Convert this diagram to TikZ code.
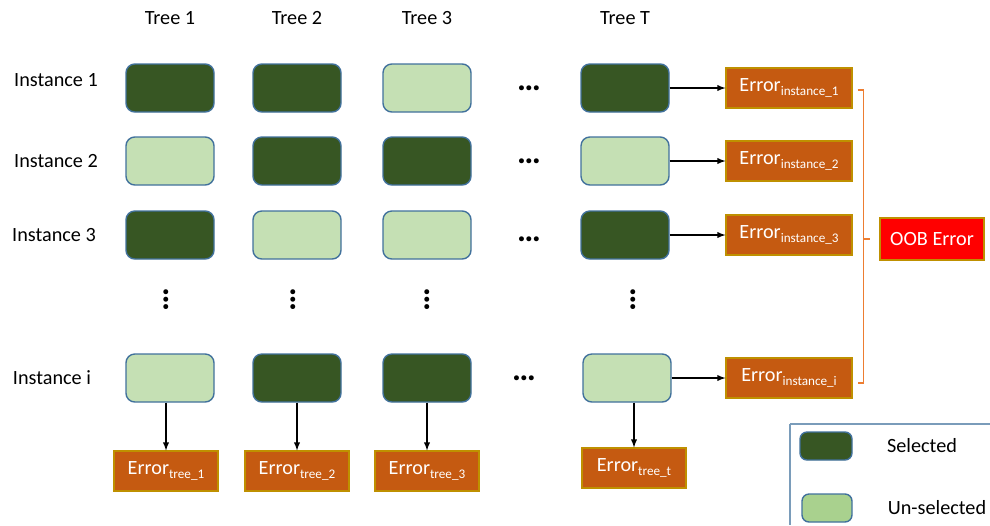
\documentclass[tikz,border=0pt]{standalone}
\usepackage{fontspec}
\setmainfont{Carlito}
\usepackage{tikz}

\definecolor{selgreen}{HTML}{375623}
\definecolor{unselgreen}{HTML}{C5E0B4}
\definecolor{legendgreen}{HTML}{A9D18E}
\definecolor{boxedge}{HTML}{41719C}
\definecolor{errorange}{HTML}{C55A11}
\definecolor{goldedge}{HTML}{BF9000}
\definecolor{bracketorange}{HTML}{ED7D31}

\newcommand{\errsub}[1]{\raisebox{-0.35ex}{\fontsize{7.5}{8}\selectfont #1}}
\newcommand{\dotrow}{{\fontsize{19}{20}\selectfont\bfseries …}}
\newcommand{\dotcol}{\rotatebox{90}{\dotrow}}

\begin{document}
\begin{tikzpicture}[node distance=1.3cm, >=latex, line width=0.6pt, font=\fontsize{11.5}{13}\selectfont]
    \tikzstyle{sel}=[draw=boxedge, fill=selgreen, rounded corners=5pt, minimum width=1.76cm, minimum height=0.96cm, line width=0.8pt]
    \tikzstyle{unsel}=[sel, fill=unselgreen]
    \tikzstyle{err}=[draw=goldedge, fill=errorange, text=white, minimum width=2.52cm, minimum height=0.8cm, inner sep=1pt]
    \tikzstyle{treeerr}=[err, minimum width=2.08cm]
    \tikzstyle{oob}=[draw=goldedge, fill=red, text=white, minimum width=2.08cm, minimum height=0.84cm]
    \tikzstyle{bracket}=[draw=bracketorange, line width=0.8pt]
    \tikzstyle{dots}=[inner sep=0pt]
    \useasboundingbox (0,0) rectangle (19.8,-10.5);

    % row 1
    \node[sel] (a1) at (3.4,-1.76) {};
    \node[sel, right of=a1, xshift=1.24cm] (b1) {};
    \node[unsel, right of=b1, xshift=1.3cm] (c1) {};
    \node[sel, right of=c1, xshift=2.66cm] (t1) {};
    % row 2
    \node[unsel, below of=a1, yshift=-0.16cm] (a2) {};
    \node[sel, right of=a2, xshift=1.24cm] (b2) {};
    \node[sel, right of=b2, xshift=1.3cm] (c2) {};
    \node[unsel, right of=c2, xshift=2.66cm] (t2) {};
    % row 3
    \node[sel, below of=a2, yshift=-0.18cm] (a3) {};
    \node[unsel, right of=a3, xshift=1.24cm] (b3) {};
    \node[unsel, right of=b3, xshift=1.3cm] (c3) {};
    \node[sel, right of=c3, xshift=2.66cm] (t3) {};
    % row i
    \node[unsel, below of=a3, yshift=-1.56cm] (ai) {};
    \node[sel, right of=ai, xshift=1.24cm] (bi) {};
    \node[sel, right of=bi, xshift=1.3cm] (ci) {};
    \node[unsel, right of=ci, xshift=2.7cm] (ti) {};

    % column and row labels
    \node[above of=a1, yshift=0.1cm] (la) {Tree 1};
    \node[above of=b1, yshift=0.1cm] (lb) {Tree 2};
    \node[above of=c1, yshift=0.1cm] (lc) {Tree 3};
    \node[above of=t1, yshift=0.1cm] (lt) {Tree T};
    \node[left of=a1, xshift=-0.98cm, yshift=0.16cm] (r1) {Instance 1};
    \node[left of=a2, xshift=-0.98cm] (r2) {Instance 2};
    \node[left of=a3, xshift=-1.02cm] (r3) {Instance 3};
    \node[left of=ai, xshift=-1.06cm] (ri) {Instance i};

    % dots
    \node[dots, right of=c1, xshift=0.74cm] (h1) {\dotrow};
    \node[dots, right of=c2, xshift=0.74cm] (h2) {\dotrow};
    \node[dots, right of=c3, xshift=0.74cm, yshift=-0.08cm] (h3) {\dotrow};
    \node[dots, right of=ci, xshift=0.64cm] (hi) {\dotrow};
    \node[dots, below of=a3, xshift=-0.08cm] (va) {\dotcol};
    \node[dots, below of=b3, xshift=-0.08cm] (vb) {\dotcol};
    \node[dots, below of=c3] (vc) {\dotcol};
    \node[dots, below of=t3, xshift=0.16cm] (vt) {\dotcol};

    % instance errors
    \node[err, right of=t1, xshift=1.98cm] (e1) {Error\errsub{instance\_1}};
    \node[err, right of=t2, xshift=1.98cm] (e2) {Error\errsub{instance\_2}};
    \node[err, right of=t3, xshift=1.98cm] (e3) {Error\errsub{instance\_3}};
    \node[err, right of=ti, xshift=1.94cm] (ei) {Error\errsub{instance\_i}};
    \draw[->] (t1.east) -- (t1.east -| e1.west);
    \draw[->] (t2.east) -- (t2.east -| e2.west);
    \draw[->] (t3.east) -- (t3.east -| e3.west);
    \draw[->] (ti.east) -- (ti.east -| ei.west);

    % tree errors
    \node[treeerr, below of=ai, yshift=-0.56cm, xshift=-0.08cm] (fa) {Error\errsub{tree\_1}};
    \node[treeerr, below of=bi, yshift=-0.56cm] (fb) {Error\errsub{tree\_2}};
    \node[treeerr, below of=ci, yshift=-0.56cm] (fc) {Error\errsub{tree\_3}};
    \node[treeerr, below of=ti, yshift=-0.5cm, xshift=0.14cm] (ft) {Error\errsub{tree\_t}};
    \draw[->] ([xshift=-0.08cm]ai.south) -- ([xshift=-0.08cm]ai.south |- fa.north);
    \draw[->] (bi.south) -- (bi.south |- fb.north);
    \draw[->] (ci.south) -- (ci.south |- fc.north);
    \draw[->] ([xshift=0.14cm]ti.south) -- ([xshift=0.14cm]ti.south |- ft.north);

    % OOB error
    \node[oob, right of=e3, xshift=1.56cm, yshift=-0.08cm] (oob) {OOB Error};
    \draw[bracket] ([xshift=0.1cm, yshift=-0.04cm]e1.east) -- ++(0.12,0) coordinate (bt)
        -- ([yshift=-0.1cm]bt |- ei.east) -- ++(-0.12,0);
    \draw[bracket] (bt |- oob.west) -- ++(0.12,0);

    % legend
    \draw[draw=boxedge!70, line width=0.8pt] (15.8,-8.48) -- (15.8,-10.5) (15.8,-8.48) -- (19.8,-8.48);
    \node[sel, minimum width=1.04cm, minimum height=0.56cm, rounded corners=4pt] (ks) at (16.52,-8.92) {};
    \node[sel, fill=legendgreen, minimum width=1.0cm, minimum height=0.56cm, rounded corners=4pt] (ku) at (16.54,-10.16) {};
    \node[right of=ks, xshift=0.62cm] (kst) {Selected};
    \node[right of=ku, xshift=0.9cm] (kut) {Un-selected};
\end{tikzpicture}
\end{document}
